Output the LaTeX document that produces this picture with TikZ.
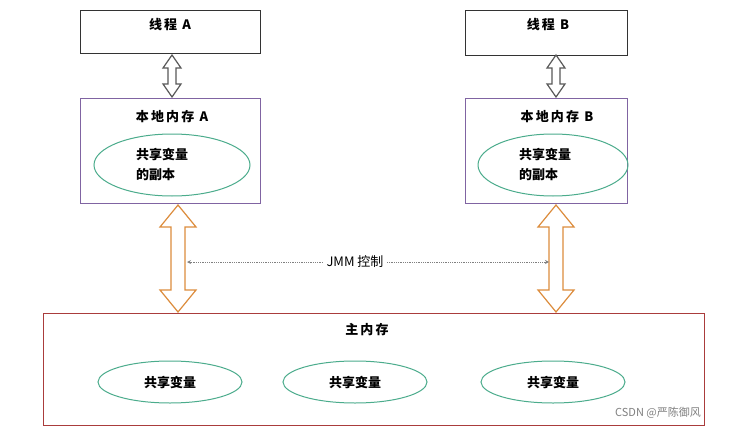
\documentclass[tikz,border=0pt]{standalone}
\usepackage{fontspec}
\newfontfamily\cjk{Noto Sans CJK SC}
\definecolor{purp}{RGB}{128,100,162}
\definecolor{grn}{RGB}{75,172,140}
\definecolor{org}{RGB}{220,140,60}
\definecolor{dred}{RGB}{170,60,60}
\newcommand\mydarr[7]{% color, x, y1, y2, shaft half, head half, head len
 \draw[#1,line width=1.2pt,fill=white,line join=miter] (#2,#3) -- (#2+#6,#3+#7) -- (#2+#5,#3+#7) -- (#2+#5,#4-#7) -- (#2+#6,#4-#7) -- (#2,#4) -- (#2-#6,#4-#7) -- (#2-#5,#4-#7) -- (#2-#5,#3+#7) -- (#2-#6,#3+#7) -- cycle;}
\tikzset{
 box/.style={draw=#1,line width=1pt,fill=white},
 lbl/.style={font=\cjk\bfseries\fontsize{13}{16}\selectfont},
}
\begin{document}
\begin{tikzpicture}[x=1pt,y=-1pt]
\useasboundingbox (0,0) rectangle (743,433);
\fill[white] (0,0) rectangle (743,433);
\node[box=black!80,minimum width=180pt,minimum height=43pt,anchor=north west] (tA) at (80,10) {};
\node[lbl] (tAl) at (170,25) {线\,程\, A};
\node[box=black!80,minimum width=162pt,minimum height=45pt,anchor=north west] (tB) at (465,10) {};
\node[lbl] (tBl) at (548,25) {线\,程\, B};
\node[box=purp,minimum width=180pt,minimum height=105pt,anchor=north west] (lA) at (80,98) {};
\node[lbl] (lAl) at (172,117) {本\,地\,内\,存\, A};
\node[box=purp,minimum width=162pt,minimum height=105pt,anchor=north west] (lB) at (465,98) {};
\node[lbl] (lBl) at (557,117) {本\,地\,内\,存\, B};
\draw[grn,line width=1pt] (172,165) ellipse [x radius=78,y radius=31];
\node[lbl,align=left,font=\cjk\bfseries\fontsize{13}{20}\selectfont] (eA) at (162,164) {共享变量\\的副本};
\draw[grn,line width=1pt] (553,165) ellipse [x radius=75,y radius=31];
\node[lbl,align=left,font=\cjk\bfseries\fontsize{13}{20}\selectfont] (eB) at (545,164) {共享变量\\的副本};
\node[box=dred,minimum width=661pt,minimum height=112pt,anchor=north west] (mm) at (43,313) {};
\node[lbl] (mml) at (367,330) {主\,内\,存};
\foreach \x/\n in {170/a,355/b,553/c}{
 \draw[grn,line width=1pt] (\x,382) ellipse [x radius=72,y radius=21];
 \node[lbl] (v\n) at (\x,382) {共享变量};
}
\mydarr{black!65}{172}{55}{97}{4}{9}{13}
\mydarr{black!65}{556}{55}{97}{4}{9}{13}
\mydarr{org}{178}{205}{312}{7}{18}{22}
\mydarr{org}{556}{205}{312}{7}{18}{22}
\node[font=\cjk\fontsize{13}{16}\selectfont] (jmm) at (355,262) {JMM 控制};
\draw[densely dotted,gray,line width=0.8pt,-stealth] (jmm.west) -- (187,262);
\draw[densely dotted,gray,line width=0.8pt,-stealth] (jmm.east) -- (549,262);
\node[font=\cjk\fontsize{11}{13}\selectfont,text=gray] (wm) at (658,413) {CSDN @严陈御风};
\end{tikzpicture}
\end{document}
